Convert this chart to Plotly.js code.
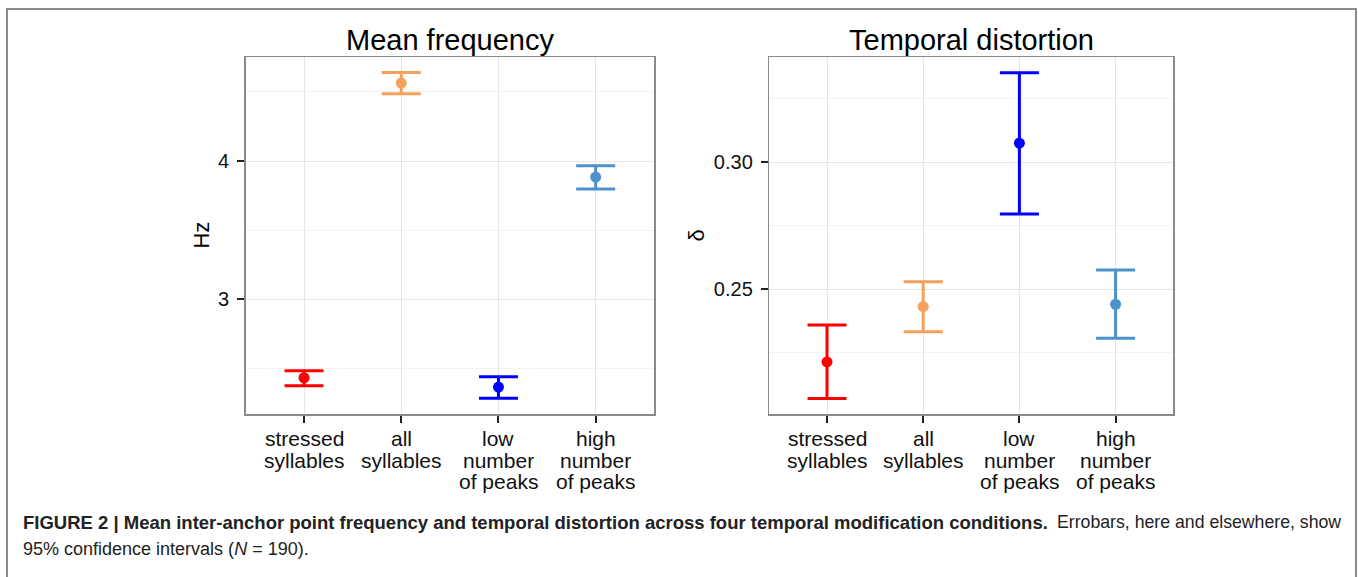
<!DOCTYPE html>
<html>
<head>
<meta charset="utf-8">
<script src="https://cdn.plot.ly/plotly-3.0.1.min.js"></script>
<style>
html,body{margin:0;padding:0;background:#fff;}
#chart{width:1358px;height:577px;}
</style>
</head>
<body>
<div id="chart"></div>
<script>
// ---- data ----
const categories = ["stressed<br>syllables", "all<br>syllables", "low<br>number<br>of peaks", "high<br>number<br>of peaks"];
const freqMean  = [2.433, 4.564, 2.366, 3.884];
const freqLower = [2.375, 4.487, 2.284, 3.797];
const freqUpper = [2.484, 4.641, 2.440, 3.966];
const distMean  = [0.2214, 0.2432, 0.3075, 0.2441];
const distLower = [0.2070, 0.2333, 0.2796, 0.2307];
const distUpper = [0.2359, 0.2530, 0.3352, 0.2576];
const colors = ["#FF0000", "#F4A15D", "#0000FF", "#4D91CD"];
const panelTitles = ["Mean frequency", "Temporal distortion"];
const yTitles = ["Hz", "δ"];
const captionBold = "<b>FIGURE 2 | Mean inter-anchor point frequency and temporal distortion across four temporal modification conditions.</b>";
const captionRest = "Errobars, here and elsewhere, show";
const captionLine2 = "95% confidence intervals (<i>N</i> = 190).";

// ---- layout geometry (pixels) ----
const W = 1358, H = 577;
const px = v => v / W;
const py = v => 1 - v / H;
const FONT = "Liberation Sans, Arial, Helvetica, sans-serif";

const traces = [];
function addPanel(means, lo, hi, xa, ya) {
  for (let i = 0; i < categories.length; i++) {
    traces.push({
      type: "scatter", mode: "markers",
      x: [categories[i]], y: [means[i]],
      xaxis: xa, yaxis: ya,
      marker: {color: colors[i], size: 11},
      error_y: {type: "data", symmetric: false,
        array: [hi[i] - means[i]], arrayminus: [means[i] - lo[i]],
        color: colors[i], thickness: 3, width: 19.5},
      showlegend: false, hoverinfo: "x+y"
    });
  }
}
addPanel(freqMean, freqLower, freqUpper, "x", "y");
addPanel(distMean, distLower, distUpper, "x2", "y2");

const gridMajor = "#e6e6e6", gridMinor = "#f3f3f3";
function xAxis(dom, anchor) {
  return {
    domain: dom, anchor: anchor, type: "category",
    categoryorder: "array", categoryarray: categories,
    range: [-0.6, 3.6], showgrid: true, gridcolor: gridMajor, gridwidth: 1,
    showline: true, mirror: true, linecolor: "#8a8a8a", linewidth: 1.5,
    ticks: "outside", ticklen: 7, tickwidth: 2, tickcolor: "#222",
    showticklabels: false, zeroline: false, fixedrange: true
  };
}
function yAxis(dom, anchor, range, dtick, minor, fmt) {
  return {
    domain: dom, anchor: anchor, range: range, tick0: 0, dtick: dtick,
    tickformat: fmt, showgrid: true, gridcolor: gridMajor, gridwidth: 1,
    minor: {dtick: minor, tick0: 0, showgrid: true, gridcolor: gridMinor, gridwidth: 1, ticks: ""},
    showline: true, mirror: true, linecolor: "#8a8a8a", linewidth: 1.5,
    ticks: "outside", ticklen: 7, tickwidth: 2, tickcolor: "#222",
    ticklabelstandoff: 4,
    tickfont: {family: FONT, size: 20, color: "#111"},
    zeroline: false, fixedrange: true
  };
}

const yDom = [py(414), py(57.3)];
const annotations = [];
const panelX = [[245.7, 654], [769.3, 1173.3]];
const xRefs = ["x", "x2"];
const yTitleX = [202, 697];
for (let p = 0; p < 2; p++) {
  annotations.push({xref: "paper", yref: "paper", x: px((panelX[p][0] + panelX[p][1]) / 2), y: py(40),
    xanchor: "center", yanchor: "middle", showarrow: false, text: panelTitles[p],
    font: {family: FONT, size: 29, color: "#000"}});
  annotations.push({xref: "paper", yref: "paper", x: px(yTitleX[p]), y: py(235.6),
    xanchor: "center", yanchor: "middle", showarrow: false, text: yTitles[p], textangle: -90,
    font: {family: FONT, size: 22, color: "#000"}});
  for (let i = 0; i < categories.length; i++) {
    const lines = categories[i].split("<br>");
    lines.forEach((ln, k) => {
      annotations.push({xref: xRefs[p], yref: "paper", x: i, y: py(438 + 22 * k),
        xanchor: "center", yanchor: "middle", showarrow: false, text: ln,
        font: {family: FONT, size: 21, color: "#111"}});
    });
  }
}
annotations.push({xref: "paper", yref: "paper", x: px(21), y: py(522), xanchor: "left", yanchor: "middle",
  showarrow: false, text: captionBold, font: {family: FONT, size: 18.5, color: "#222"}});
annotations.push({xref: "paper", yref: "paper", x: px(1343), y: py(522), xanchor: "right", yanchor: "middle",
  showarrow: false, text: captionRest, font: {family: FONT, size: 17.7, color: "#222"}});
annotations.push({xref: "paper", yref: "paper", x: px(21), y: py(549), xanchor: "left", yanchor: "middle",
  showarrow: false, text: captionLine2, font: {family: FONT, size: 18, color: "#222"}});

const layout = {
  width: W, height: H,
  margin: {l: 0, r: 0, t: 0, b: 0, pad: 0},
  paper_bgcolor: "#fff", plot_bgcolor: "#fff",
  xaxis: xAxis([px(245.7), px(654)], "y"),
  yaxis: yAxis(yDom, "x", [2.171, 4.75], 1, 0.5, ""),
  xaxis2: xAxis([px(769.3), px(1173.3)], "y2"),
  yaxis2: yAxis(yDom, "x2", [0.2009, 0.3413], 0.05, 0.025, ".2f"),
  annotations: annotations,
  shapes: [{type: "path", xref: "paper", yref: "paper",
    path: `M ${px(7)} -0.1 L ${px(7)} ${py(9)} L ${px(1356)} ${py(9)} L ${px(1356)} -0.1`,
    line: {color: "#8a8a8a", width: 2}, layer: "below"}],
  showlegend: false
};

Plotly.newPlot("chart", traces, layout, {displayModeBar: false, staticPlot: true});
</script>
</body>
</html>
